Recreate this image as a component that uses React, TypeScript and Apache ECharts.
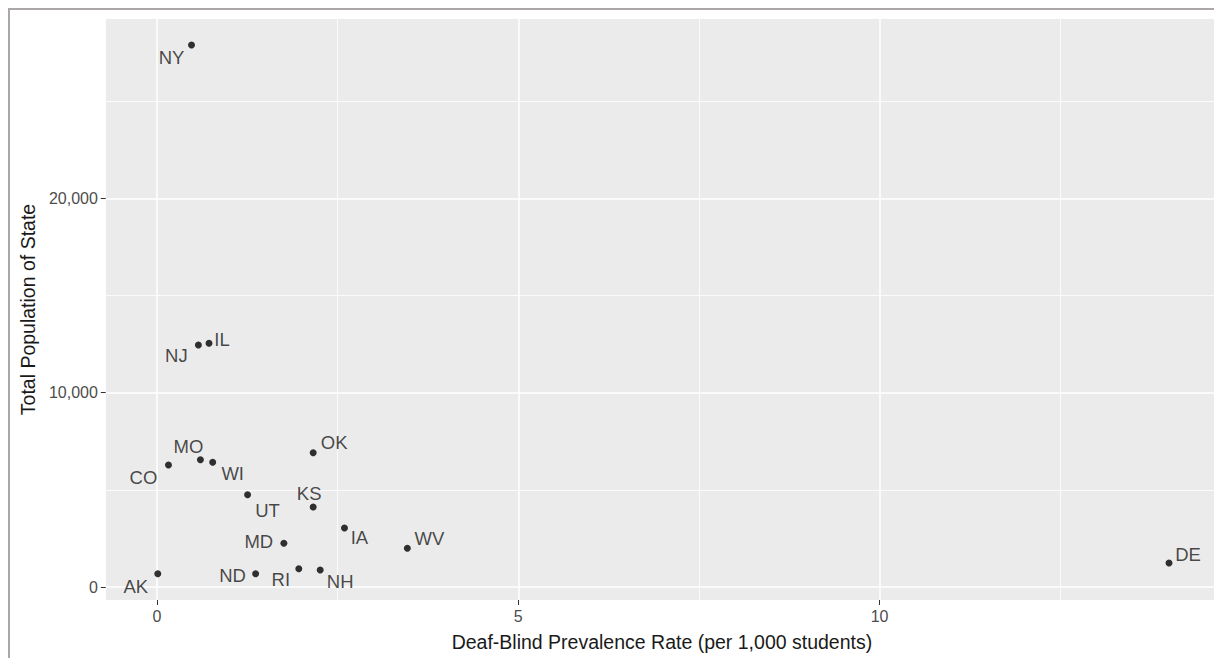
import React, { useEffect, useRef } from "react";
import * as echarts from "echarts";

const states = ["NY", "IL", "NJ", "OK", "MO", "WI", "CO", "UT", "KS", "IA", "WV", "MD", "ND", "RI", "NH", "AK", "DE"];
const prevalence = [0.477, 0.719, 0.572, 2.161, 0.6, 0.77, 0.158, 1.253, 2.161, 2.594, 3.464, 1.755, 1.364, 1.962, 2.258, 0.01, 14.007];
const population = [27895, 12543, 12455, 6912, 6552, 6418, 6279, 4750, 4117, 3037, 1992, 2249, 685, 942, 875, 685, 1235];
// label offsets (repel-style placement)
const labelOffsets: [number, number][] = [
  [-20, 13], [13, -4], [-22, 11], [21, -10], [-12, -13], [20, 11], [-25, 13], [20, 16], [-4, -14],
  [15, 10], [22, -10], [-25, -2], [-23, 2], [-18, 11], [20, 12], [-22, 13], [19, -9],
];
const xTicks = [0, 5, 10];
const yTicks = [0, 10000, 20000];
const xMajor = [0, 5, 10];
const xMinor = [2.5, 7.5, 12.5];
const yMajor = [0, 10000, 20000];
const yMinor = [5000, 15000, 25000];

const FONT = "Liberation Sans, Arial, sans-serif";

export default function App() {
  const ref = useRef<HTMLDivElement>(null);
  useEffect(() => {
    if (!ref.current) return;
    const chart = echarts.init(ref.current, undefined, { renderer: "svg" });
    const data = states.map((s, i) => ({
      name: s,
      value: [prevalence[i], population[i]],
      label: { offset: labelOffsets[i] },
    }));
    const gridLines = [
      ...xMajor.map((v) => ({ xAxis: v, lineStyle: { width: 1.5 } })),
      ...xMinor.map((v) => ({ xAxis: v, lineStyle: { width: 0.8 } })),
      ...yMajor.map((v) => ({ yAxis: v, lineStyle: { width: 1.5 } })),
      ...yMinor.map((v) => ({ yAxis: v, lineStyle: { width: 0.8 } })),
    ];
    chart.setOption({
      animation: false,
      grid: {
        left: 94,
        top: 9,
        right: 4,
        bottom: 58,
        show: true,
        backgroundColor: "#EBEBEB",
        borderWidth: 0,
      },
      xAxis: {
        type: "value",
        min: -0.709,
        max: 14.685,
        name: "Deaf-Blind Prevalence Rate (per 1,000 students)",
        nameLocation: "middle",
        nameGap: 32,
        nameTextStyle: { fontFamily: FONT, fontSize: 19.5, color: "#1a1a1a" },
        axisLine: { show: false, onZero: false },
        splitLine: { show: false },
        axisTick: { show: true, customValues: xTicks, length: 5, lineStyle: { color: "#333", width: 1 } },
        axisLabel: {
          customValues: xTicks,
          fontFamily: FONT,
          fontSize: 16,
          color: "#4D4D4D",
          margin: 8,
        },
      },
      yAxis: {
        type: "value",
        min: -669,
        max: 29233,
        name: "Total Population of State",
        nameLocation: "middle",
        nameGap: 65,
        nameTextStyle: { fontFamily: FONT, fontSize: 19.5, color: "#1a1a1a" },
        axisLine: { show: false, onZero: false },
        splitLine: { show: false },
        axisTick: { show: true, customValues: yTicks, length: 5, lineStyle: { color: "#333", width: 1 } },
        axisLabel: {
          customValues: yTicks,
          fontFamily: FONT,
          fontSize: 16,
          color: "#4D4D4D",
          margin: 8,
          formatter: (v: number) => v.toLocaleString("en-US"),
        },
      },
      series: [
        {
          type: "scatter",
          z: 1,
          data: [],
          silent: true,
          markLine: {
            z: 1,
            silent: true,
            symbol: "none",
            label: { show: false },
            lineStyle: { color: "#FFFFFF", type: "solid" },
            emphasis: { disabled: true },
            data: gridLines,
          },
        },
        {
          type: "scatter",
          z: 3,
          symbolSize: 7,
          itemStyle: { color: "#000" },
          label: {
            show: true,
            position: "inside",
            formatter: "{b}",
            fontFamily: FONT,
            fontSize: 18.5,
            color: "#1a1a1a",
          },
          data,
        },
      ],
    });
    return () => chart.dispose();
  }, []);
  return (
    <div
      style={{
        width: 1214,
        height: 650,
        borderTop: "2px solid #ABA7A9",
        borderLeft: "2px solid #ABA7A9",
        boxSizing: "border-box",
        background: "#fff",
      }}
    >
      <div ref={ref} style={{ width: 1212, height: 648 }} />
    </div>
  );
}
